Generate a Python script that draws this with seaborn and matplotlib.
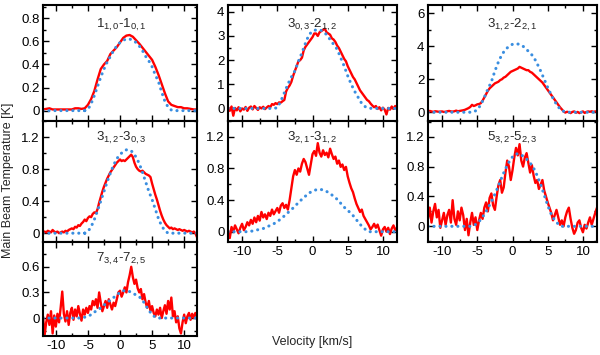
import numpy as np
import pandas as pd
import matplotlib
matplotlib.use("Agg")
import matplotlib.pyplot as plt
from matplotlib.ticker import MultipleLocator
import seaborn as sns

# ---------------- data ----------------
titles = [r"$1_{\mathrm{1,0}}$-$1_{\mathrm{0,1}}$",
          r"$3_{\mathrm{0,3}}$-$2_{\mathrm{1,2}}$",
          r"$3_{\mathrm{1,2}}$-$2_{\mathrm{2,1}}$",
          r"$3_{\mathrm{1,2}}$-$3_{\mathrm{0,3}}$",
          r"$3_{\mathrm{2,1}}$-$3_{\mathrm{1,2}}$",
          r"$5_{\mathrm{3,2}}$-$5_{\mathrm{2,3}}$",
          r"$7_{\mathrm{3,4}}$-$7_{\mathrm{2,5}}$"]

obs1 = [0.01, 0.015, 0.02, 0.01, 0.01, 0.01, 0.01, 0.01, 0.01, 0.01,
        0.02, 0.02, 0.015, 0.02, 0.05, 0.10, 0.17, 0.27, 0.36, 0.40,
        0.43, 0.49, 0.52, 0.55, 0.59, 0.63, 0.65, 0.655, 0.64, 0.61,
        0.58, 0.545, 0.51, 0.475, 0.44, 0.38, 0.31, 0.23, 0.15, 0.08,
        0.05, 0.04, 0.03, 0.03, 0.02, 0.02, 0.015, 0.01, 0.01]
mod1 = [0, 0, 0, 0, 0, 0, 0, 0, 0, 0,
        0, 0, 0, 0, 0.01, 0.06, 0.13, 0.21, 0.29, 0.36,
        0.42, 0.47, 0.52, 0.56, 0.59, 0.61, 0.62, 0.62, 0.61, 0.59,
        0.56, 0.52, 0.47, 0.43, 0.38, 0.31, 0.25, 0.16, 0.08, 0.03,
        0.005, 0, 0, 0, 0, 0, 0, 0, 0]

obs2 = [0.05, -0.10, 0.08, -0.30, 0.02, -0.08, 0.05, -0.12, 0.00, -0.05,
        0.06, -0.10, 0.03, 0.08, -0.04, 0.10, 0.02, -0.06, 0.05, 0.00,
        0.07, -0.03, 0.04, 0.10, 0.05, 0.18, 0.15, 0.22, 0.18, 0.25,
        0.24, 0.30, 0.35, 0.70, 0.85, 0.95, 1.10, 1.35, 1.55, 1.75,
        1.95, 2.00, 2.10, 2.40, 2.55, 2.65, 2.75, 2.85, 2.95, 3.10,
        3.10, 3.00, 3.15, 3.20, 3.25, 3.30, 3.15, 3.10, 3.05, 2.90,
        2.85, 2.75, 2.60, 2.50, 2.35, 2.20, 2.05, 1.95, 1.75, 1.60,
        1.45, 1.30, 1.20, 1.05, 0.90, 0.75, 0.65, 0.55, 0.45, 0.35,
        0.30, 0.20, 0.12, 0.05, 0.10, -0.02, 0.05, -0.08, 0.03, -0.05,
        -0.25, 0.02, -0.05, 0.08, -0.02, 0.10, 0.03]
mod2 = [0, 0, 0, 0, 0, 0, 0, 0, 0, 0,
        0, 0, 0, 0, 0.03, 0.30, 0.65, 1.0, 1.3, 1.55,
        1.95, 2.3, 2.7, 3.05, 3.2, 3.25, 3.25, 3.2, 3.05, 2.85,
        2.65, 2.45, 2.1, 1.75, 1.35, 1.0, 0.7, 0.45, 0.2, 0.07,
        0.01, 0, 0, 0, 0, 0, 0, 0, 0]

obs3 = [0.05, 0.08, 0.05, 0.02, 0.06, 0.05, 0.03, 0.04, 0.05, 0.02,
        0.03, 0.06, 0.08, 0.05, 0.04, 0.06, 0.10, 0.06, 0.08, 0.10,
        0.12, 0.15, 0.20, 0.25, 0.32, 0.45, 0.38, 0.42, 0.48, 0.50,
        0.55, 0.70, 0.90, 1.10, 1.30, 1.45, 1.55, 1.65, 1.75, 1.80,
        1.85, 1.95, 2.00, 2.10, 2.15, 2.25, 2.35, 2.45, 2.50, 2.55,
        2.60, 2.65, 2.75, 2.70, 2.65, 2.60, 2.55, 2.55, 2.45, 2.40,
        2.30, 2.20, 2.10, 2.00, 1.90, 1.80, 1.65, 1.50, 1.35, 1.20,
        1.05, 0.90, 0.75, 0.60, 0.45, 0.30, 0.18, 0.05, -0.02, 0.03,
        0.00, -0.05, 0.02, 0.05, -0.03, 0.02, -0.05, 0.00, 0.05, -0.04,
        0.02, 0.05, 0.03, 0.06, 0.02, 0.05, 0.04]
mod3 = [0, 0, 0, 0, 0, 0, 0, 0, 0, 0,
        0, 0, 0, 0.02, 0.15, 0.45, 0.9, 1.4, 1.85, 2.5,
        3.05, 3.5, 3.8, 4.0, 4.12, 4.15, 4.12, 4.0, 3.8, 3.6,
        3.35, 2.95, 2.5, 2.0, 1.5, 1.05, 0.65, 0.32, 0.1, 0.02,
        0, 0, 0, 0, 0, 0, 0, 0, 0]

obs4 = [0.00, 0.02, 0.01, 0.03, 0.02, 0.01, 0.04, 0.02, 0.01, 0.02,
        0.00, 0.01, 0.02, 0.01, 0.03, 0.02, 0.04, 0.05, 0.06, 0.05,
        0.08, 0.07, 0.10, 0.09, 0.12, 0.14, 0.17, 0.15, 0.19, 0.21,
        0.20, 0.24, 0.26, 0.25, 0.30, 0.38, 0.45, 0.52, 0.58, 0.63,
        0.68, 0.72, 0.76, 0.79, 0.82, 0.85, 0.88, 0.90, 0.92, 0.90,
        0.91, 0.90, 0.92, 0.94, 0.96, 0.98, 0.95, 0.88, 0.83, 0.80,
        0.78, 0.77, 0.78, 0.76, 0.74, 0.73, 0.72, 0.70, 0.62, 0.55,
        0.48, 0.42, 0.35, 0.28, 0.22, 0.17, 0.13, 0.10, 0.08, 0.06,
        0.07, 0.05, 0.06, 0.05, 0.04, 0.05, 0.04, 0.03, 0.04, 0.03,
        0.02, 0.03, 0.02, 0.01, 0.02, 0.00, -0.05]
mod4 = [0, 0, 0, 0, 0, 0, 0, 0, 0, 0,
        0, 0, 0, 0, 0.02, 0.08, 0.17, 0.28, 0.40, 0.52,
        0.64, 0.75, 0.85, 0.93, 0.98, 1.02, 1.04, 1.04, 1.01, 0.95,
        0.87, 0.76, 0.64, 0.52, 0.42, 0.30, 0.18, 0.09, 0.03, 0.0,
        0, 0, 0, 0, 0, 0, 0, 0, 0]

obs5 = [0.02, -0.08, 0.06, 0.00, 0.08, 0.03, -0.02, 0.05, 0.10, 0.02,
        0.06, 0.12, 0.08, 0.15, 0.10, 0.18, 0.12, 0.20, 0.14, 0.25,
        0.18, 0.22, 0.16, 0.24, 0.20, 0.28, 0.22, 0.26, 0.30, 0.24,
        0.33, 0.36, 0.30, 0.34, 0.28, 0.40, 0.55, 0.70, 0.78, 0.72,
        0.80, 0.76, 0.86, 0.92, 0.88, 0.80, 0.72, 0.85, 0.98, 1.02,
        0.96, 1.12, 1.00, 0.95, 1.03, 0.97, 1.00, 0.94, 1.05, 0.98,
        0.92, 0.95, 0.86, 0.90, 0.82, 0.85, 0.78, 0.82, 0.70, 0.62,
        0.55, 0.50, 0.42, 0.35, 0.30, 0.25, 0.28, 0.20, 0.16, 0.12,
        0.08, 0.03, 0.06, 0.10, 0.05, 0.09, 0.02, -0.05, 0.03, 0.06,
        0.00, 0.05, -0.03, 0.04, 0.08, 0.02, 0.05]
mod5 = [0, 0, 0, 0, 0, 0, 0, 0.01, 0.02, 0.03,
        0.04, 0.06, 0.08, 0.10, 0.13, 0.16, 0.20, 0.24, 0.28, 0.32,
        0.37, 0.41, 0.45, 0.49, 0.51, 0.53, 0.535, 0.53, 0.51, 0.48,
        0.45, 0.41, 0.36, 0.31, 0.27, 0.23, 0.18, 0.12, 0.07, 0.03,
        0, 0, 0, 0, 0, 0, 0, 0, 0]

obs6 = [0.10, 0.25, 0.05, 0.20, 0.30, 0.12, 0.22, -0.02, 0.08, 0.18,
        0.02, 0.15, 0.22, 0.05, 0.35, 0.10, 0.02, 0.20, 0.08, 0.25,
        0.15, -0.05, 0.10, -0.12, 0.05, 0.18, 0.02, 0.12, -0.05, 0.08,
        0.18, 0.10, 0.25, 0.32, 0.20, 0.38, 0.44, 0.28, 0.22, 0.40,
        0.55, 0.62, 0.45, 0.52, 0.72, 0.88, 0.80, 0.62, 0.75, 0.92,
        1.05, 0.95, 1.10, 0.88, 0.80, 0.92, 0.98, 0.85, 0.72, 0.82,
        0.68, 0.58, 0.62, 0.50, 0.56, 0.62, 0.48, 0.40, 0.32, 0.25,
        0.18, 0.08, 0.15, 0.22, 0.12, 0.02, 0.08, 0.00, 0.12, 0.20,
        0.25, 0.10, -0.02, -0.10, -0.05, 0.05, 0.08, -0.02, -0.08, 0.02,
        -0.03, 0.05, 0.12, 0.02, 0.10, 0.18, 0.25]
mod6 = [0, 0, 0, 0, 0, 0, 0, 0, 0, 0,
        0, 0, 0, 0.01, 0.04, 0.09, 0.16, 0.24, 0.33, 0.43,
        0.54, 0.66, 0.77, 0.86, 0.93, 0.97, 0.97, 0.94, 0.90, 0.85,
        0.78, 0.68, 0.56, 0.42, 0.28, 0.16, 0.08, 0.03, 0.0, 0.0,
        0, 0, 0, 0, 0, 0, 0, 0, 0]

obs7 = [0.02, -0.20, -0.05, 0.04, -0.08, 0.08, -0.18, 0.03, -0.10, 0.05,
        -0.05, 0.12, 0.31, 0.05, -0.04, 0.08, -0.08, 0.06, 0.12, -0.02,
        0.10, 0.02, 0.14, 0.05, -0.03, 0.10, 0.04, 0.12, 0.06, 0.14,
        0.10, 0.20, 0.15, 0.22, 0.12, 0.30, 0.18, 0.08, 0.14, 0.20,
        0.12, 0.22, 0.16, 0.10, 0.18, 0.14, 0.22, 0.30, 0.32, 0.25,
        0.30, 0.36, 0.30, 0.42, 0.50, 0.60, 0.48, 0.40, 0.45, 0.35,
        0.30, 0.34, 0.22, 0.28, 0.18, 0.12, 0.20, 0.08, 0.14, 0.06,
        0.02, 0.10, 0.04, 0.12, 0.00, 0.08, 0.15, 0.05, 0.20, 0.10,
        0.24, 0.02, 0.08, -0.05, 0.02, -0.12, -0.18, -0.05, 0.04, -0.06,
        0.02, 0.06, -0.02, 0.05, 0.00, 0.06, 0.02]
mod7 = [0, 0, 0, 0, 0, 0, 0, 0, 0, 0,
        0, 0, 0, 0.01, 0.02, 0.04, 0.07, 0.09, 0.12, 0.15,
        0.18, 0.21, 0.24, 0.27, 0.30, 0.32, 0.32, 0.31, 0.29, 0.27,
        0.25, 0.21, 0.15, 0.09, 0.04, 0.01, 0, 0, 0, 0,
        0, 0, 0, 0, 0, 0, 0, 0, 0]

observed = [obs1, obs2, obs3, obs4, obs5, obs6, obs7]
models = [mod1, mod2, mod3, mod4, mod5, mod6, mod7]
ylims = [(-0.09, 0.915), (-0.52, 4.28), (-0.53, 6.5), (-0.11, 1.40),
         (-0.13, 1.40), (-0.21, 1.41), (-0.21, 0.89)]
ymajor = [0.2, 1, 2, 0.4, 0.4, 0.4, 0.3]
xtick_labels_on = [False, False, False, False, True, True, True]

# ---------------- style ----------------
sns.set_style("ticks")
plt.rcParams["font.family"] = ["Liberation Sans", "DejaVu Sans"]
plt.rcParams["mathtext.fontset"] = "custom"
plt.rcParams["mathtext.rm"] = "Liberation Sans"
plt.rcParams["mathtext.it"] = "Liberation Sans:italic"
plt.rcParams["mathtext.bf"] = "Liberation Sans:bold"
plt.rcParams["axes.unicode_minus"] = False

W, H = 600, 355
fig = plt.figure(figsize=(W / 100, H / 100), dpi=100)

cols = [(43, 197), (228, 397), (428, 597)]
rows = [(5, 121), (121, 242), (242, 336)]
positions = [(0, 0), (0, 1), (0, 2), (1, 0), (1, 1), (1, 2), (2, 0)]
title_off = [-8.5, -8.5, -8.5, -6.5, -6.5, -6.5, -6.5]

RED = "#ff0000"
BLUE = "#3a8ee0"

for i, (r, c) in enumerate(positions):
    x0, x1 = cols[c]
    yt, yb = rows[r]
    ax = fig.add_axes([x0 / W, 1 - yb / H, (x1 - x0) / W, (yb - yt) / H])
    o = observed[i]
    m = models[i]
    df_o = pd.DataFrame({"v": np.linspace(-12, 12, len(o)), "T": o})
    df_m = pd.DataFrame({"v": np.linspace(-12, 12, len(m)), "T": m})
    sns.lineplot(data=df_o, x="v", y="T", ax=ax, color=RED, lw=1.7,
                 estimator=None, sort=False)
    sns.lineplot(data=df_m, x="v", y="T", ax=ax, color=BLUE, lw=2.2,
                 linestyle=(0, (0.05, 1.9)), dash_capstyle="round",
                 estimator=None, sort=False)
    ax.set_xlim(-12, 12)
    ax.set_ylim(*ylims[i])
    ax.xaxis.set_major_locator(MultipleLocator(5))
    ax.xaxis.set_minor_locator(MultipleLocator(2.5))
    ax.yaxis.set_major_locator(MultipleLocator(ymajor[i]))
    ax.yaxis.set_minor_locator(MultipleLocator(ymajor[i] / 2))
    ax.tick_params(which="both", direction="in", top=True, right=True,
                   width=1.0, colors="black", labelsize=9.5)
    ax.tick_params(which="major", length=4)
    ax.tick_params(which="minor", length=2.2)
    ax.tick_params(axis="y", pad=2.5)
    ax.tick_params(axis="x", pad=3)
    ax.tick_params(axis="x", labelbottom=xtick_labels_on[i])
    ax.yaxis.set_major_formatter(matplotlib.ticker.FuncFormatter(
        lambda val, pos: ("%g" % round(val, 3))))
    ax.set_xlabel("")
    ax.set_ylabel("")
    for s in ax.spines.values():
        s.set_linewidth(1.5)
        s.set_color("black")
    ax.annotate(titles[i], xy=(0.51 if c == 0 else 0.5, 1.0),
                xycoords="axes fraction", xytext=(0, title_off[i]),
                textcoords="offset points", ha="center", va="top",
                fontsize=9.5)

fig.text(312 / W, 1 - 342 / H, "Velocity [km/s]", ha="center", va="center",
         fontsize=9)
fig.text(8 / W, 1 - 180 / H, "Main Beam Temperature [K]", ha="center",
         va="center", rotation=90, fontsize=9)

fig.savefig("out.png", dpi=100)
